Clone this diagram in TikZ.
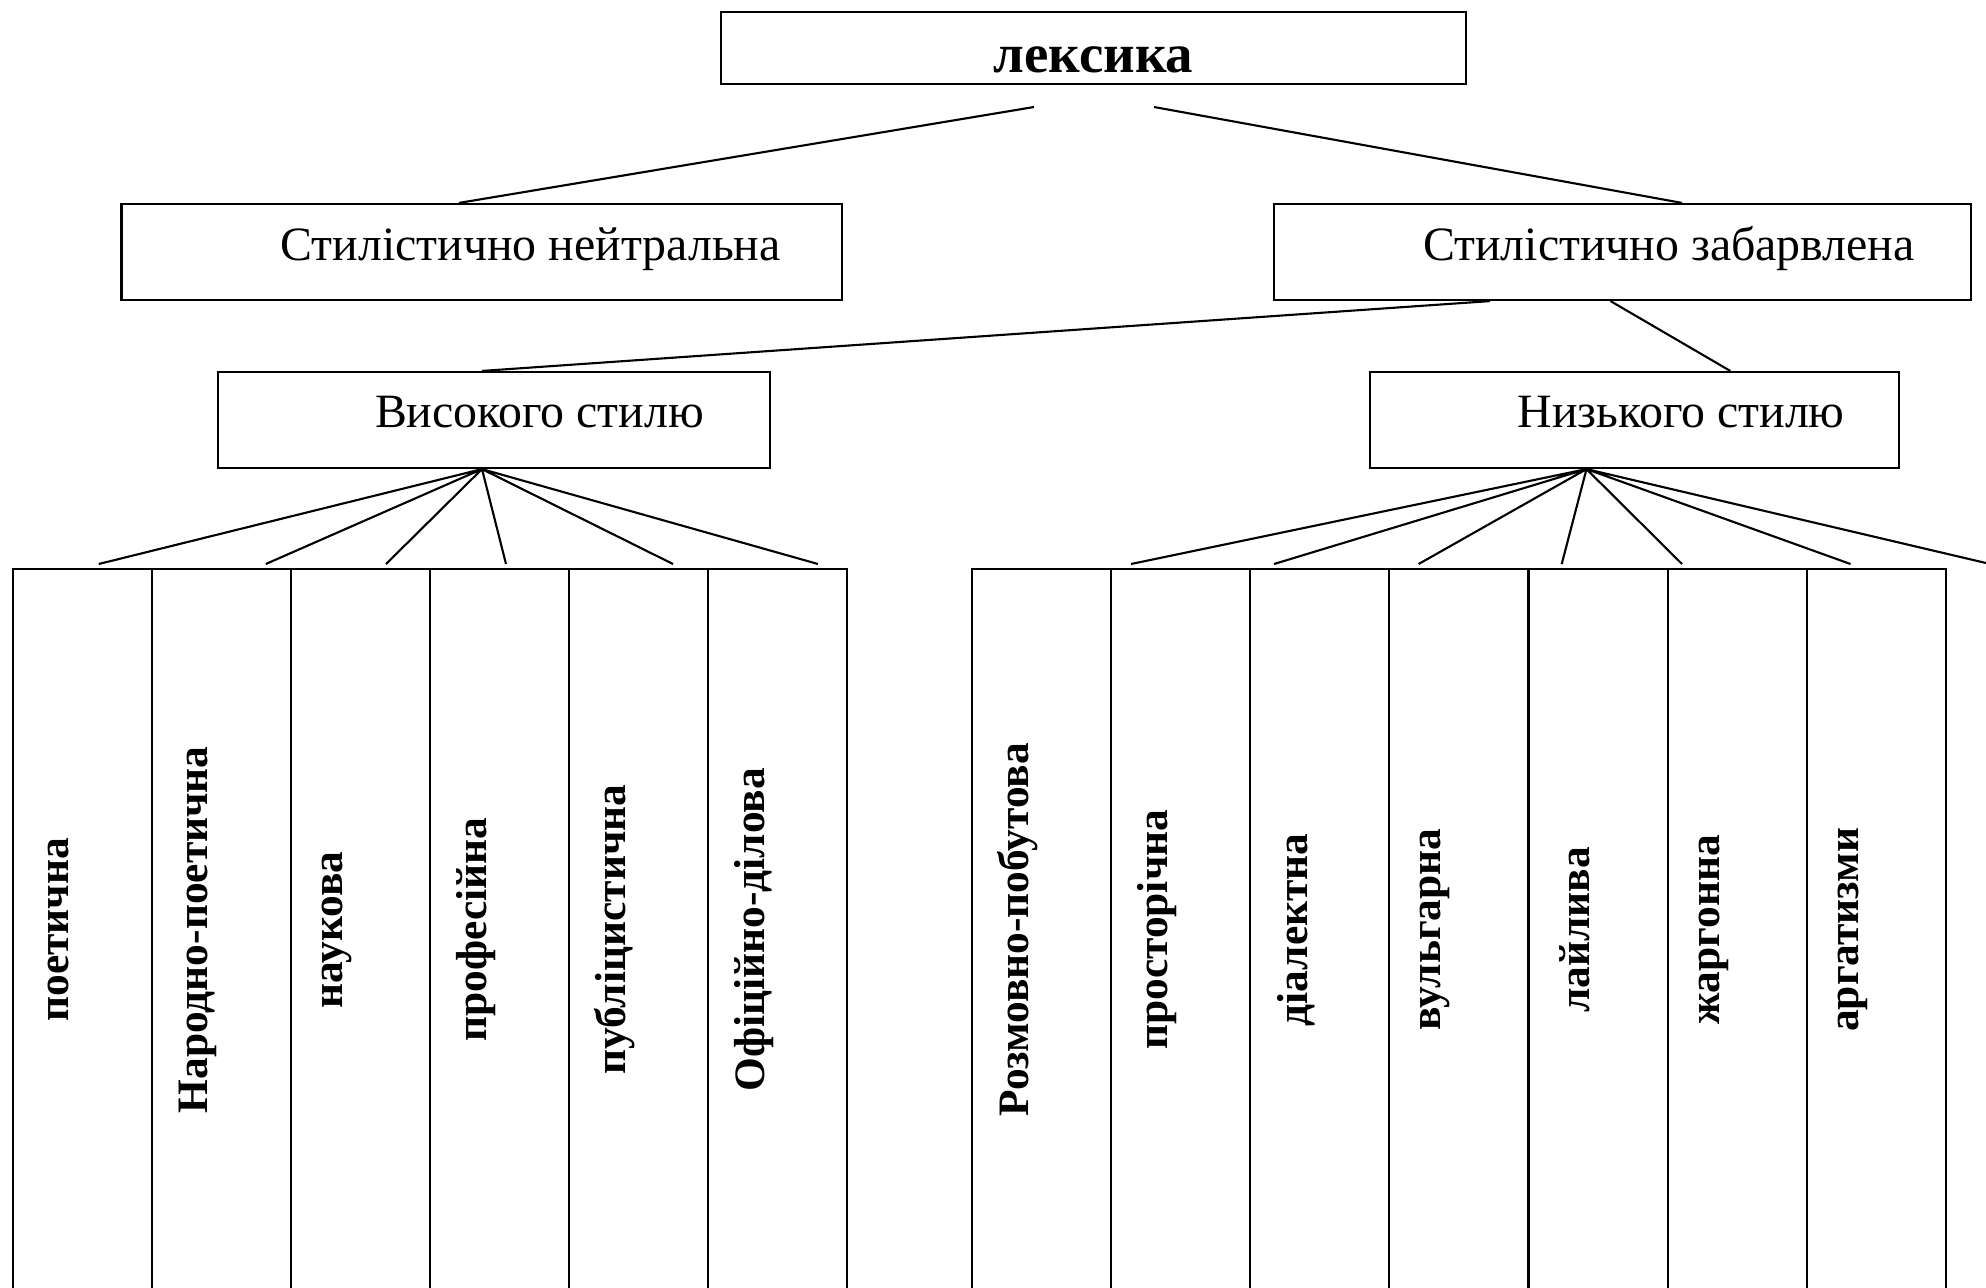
\documentclass[tikz,border=0pt]{standalone}
\usepackage{fontspec}
\setmainfont{Liberation Serif}

\begin{document}
\begin{tikzpicture}[x=0.01cm, y=-0.01cm, line width=0.6pt,
        caixa/.style={draw, inner sep=0pt},
        celula/.style={draw, inner sep=0pt, minimum width=1.39cm, minimum height=7.305cm},
        textocaixa/.style={font=\fontsize{13.6}{16}\selectfont, inner sep=0pt, anchor=base west},
        titulo/.style={font=\bfseries\fontsize{15.6}{19}\selectfont, inner sep=0pt, anchor=base},
        textovert/.style={font=\bfseries\fontsize{12.35}{15}\selectfont, rotate=90, inner sep=0pt}]

            \useasboundingbox (0,0) rectangle (1986,1287);

            % 1. Caixa superior
            \node[caixa, minimum width=7.446cm, minimum height=0.717cm] (lex) at (1093.7,48.2) {};
            \node[titulo] (lext) at (1093.5,72) {лексика};

            % 2. Segundo nível
            \node[caixa, minimum width=7.203cm, minimum height=0.96cm] (neut) at (481.9,252) {};
            \node[textocaixa] (neutt) at (279.6,260) {Стилістично нейтральна};
            \node[caixa, minimum width=6.97cm, minimum height=0.96cm] (zab) at (1622.5,252) {};
            \node[textocaixa] (zabt) at (1422,260) {Стилістично забарвлена};

            % 3. Terceiro nível
            \node[caixa, minimum width=5.52cm, minimum height=0.96cm] (vys) at (494,420) {};
            \node[textocaixa] (vyst) at (374,427) {Високого стилю};
            \node[caixa, minimum width=5.284cm, minimum height=0.96cm] (nyz) at (1634.2,420) {};
            \node[textocaixa] (nyzt) at (1516.5,427.7) {Низького стилю};

            % 4. Ligações entre os níveis
            \coordinate (lexL) at (1034,107);
            \coordinate (lexR) at (1154,107);
            \draw (lexL) -- ([xshift=-0.23cm]neut.north);
            \draw (lexR) -- ([xshift=0.595cm]zab.north);
            \draw ([xshift=-1.325cm]zab.south) -- ([xshift=-0.12cm]vys.north);
            \draw ([xshift=-0.12cm]zab.south) -- ([xshift=0.96cm]nyz.north);

            % 5. Leques (pontas soltas)
            \coordinate (vysA) at ([xshift=-0.12cm]vys.south);
            \coordinate (v1) at (98.7,564);
            \coordinate (v2) at (265.8,564);
            \coordinate (v3) at (386,564);
            \coordinate (v4) at (506,564);
            \coordinate (v5) at (673,564);
            \coordinate (v6) at (818,564);
            \draw (vysA) -- (v1) (vysA) -- (v2) (vysA) -- (v3)
                  (vysA) -- (v4) (vysA) -- (v5) (vysA) -- (v6);

            \coordinate (nyzA) at ([xshift=-0.477cm]nyz.south);
            \coordinate (n1) at (1131,564);
            \coordinate (n2) at (1274,564);
            \coordinate (n3) at (1418.6,564);
            \coordinate (n4) at (1561.7,564);
            \coordinate (n5) at (1682,564);
            \coordinate (n6) at (1850.5,564);
            \coordinate (n7) at (1986,563);
            \draw (nyzA) -- (n1) (nyzA) -- (n2) (nyzA) -- (n3) (nyzA) -- (n4)
                  (nyzA) -- (n5) (nyzA) -- (n6) (nyzA) -- (n7);

            % 6. Colunas - Високого стилю
            \node[celula] (c1) at (82.1,934.75) {};
            \node[celula] (c2) at (221.1,934.75) {};
            \node[celula] (c3) at (360.1,934.75) {};
            \node[celula] (c4) at (499.1,934.75) {};
            \node[celula] (c5) at (638.1,934.75) {};
            \node[celula] (c6) at (777.1,934.75) {};
            \node[textovert] (t1) at ([xshift=-0.235cm, yshift=0.05cm]c1.center) {поетична};
            \node[textovert] (t2) at ([xshift=-0.235cm, yshift=0.05cm]c2.center) {Народно-поетична};
            \node[textovert] (t3) at ([xshift=-0.235cm, yshift=0.05cm]c3.center) {наукова};
            \node[textovert] (t4) at ([xshift=-0.235cm, yshift=0.05cm]c4.center) {професійна};
            \node[textovert] (t5) at ([xshift=-0.235cm, yshift=0.05cm]c5.center) {публіцистична};
            \node[textovert] (t6) at ([xshift=-0.235cm, yshift=0.05cm]c6.center) {Офіційно-ділова};

            % 7. Colunas - Низького стилю
            \node[celula] (c7) at (1041.6,934.75) {};
            \node[celula] (c8) at (1180.7,934.75) {};
            \node[celula] (c9) at (1319.8,934.75) {};
            \node[celula] (c10) at (1458.9,934.75) {};
            \node[celula] (c11) at (1598.0,934.75) {};
            \node[celula] (c12) at (1737.1,934.75) {};
            \node[celula] (c13) at (1876.2,934.75) {};
            \node[textovert] (t7) at ([xshift=-0.235cm, yshift=0.05cm]c7.center) {Розмовно-побутова};
            \node[textovert] (t8) at ([xshift=-0.235cm, yshift=0.05cm]c8.center) {просторічна};
            \node[textovert] (t9) at ([xshift=-0.235cm, yshift=0.05cm]c9.center) {діалектна};
            \node[textovert] (t10) at ([xshift=-0.235cm, yshift=0.05cm]c10.center) {вульгарна};
            \node[textovert] (t11) at ([xshift=-0.235cm, yshift=0.05cm]c11.center) {лайлива};
            \node[textovert] (t12) at ([xshift=-0.235cm, yshift=0.05cm]c12.center) {жаргонна};
            \node[textovert] (t13) at ([xshift=-0.235cm, yshift=0.05cm]c13.center) {аргатизми};

\end{tikzpicture}
\end{document}
